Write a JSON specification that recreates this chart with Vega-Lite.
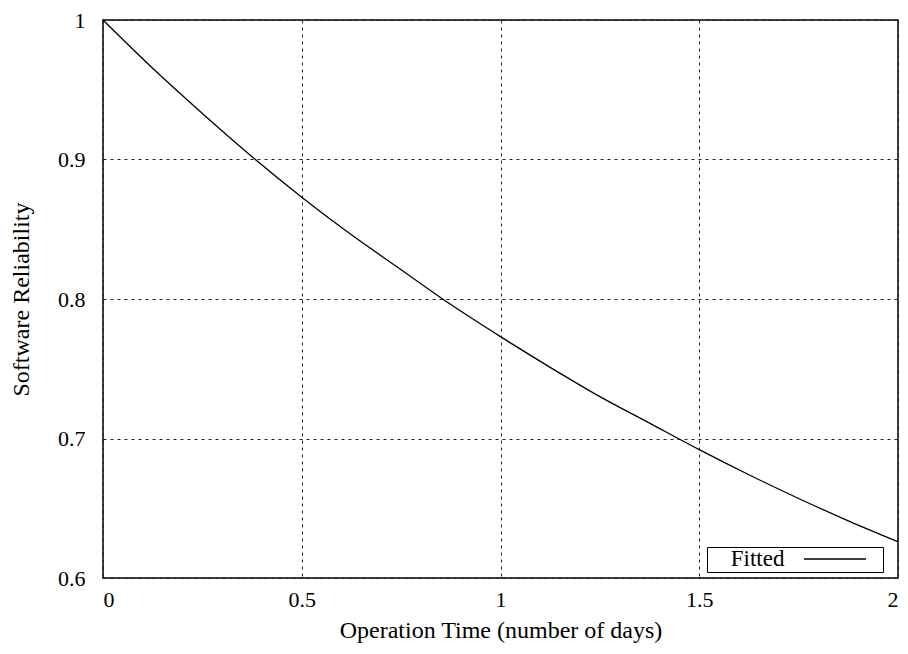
{
  "$schema": "https://vega.github.io/schema/vega-lite/v6.json",
  "width": 795,
  "height": 558,
  "autosize": {"type": "none"},
  "padding": {"left": 103, "top": 20, "right": 10, "bottom": 76},
  "background": "white",
  "config": {
    "font": "Liberation Serif",
    "view": {"stroke": "black", "strokeWidth": 1.5},
    "axis": {
      "grid": true,
      "gridColor": "#222222",
      "gridDash": [3, 4],
      "gridWidth": 1,
      "gridOpacity": 1,
      "domain": false,
      "ticks": false,
      "labelFont": "Liberation Serif",
      "labelFontSize": 22,
      "labelColor": "black",
      "titleFont": "Liberation Serif",
      "titleFontSize": 24,
      "titleFontWeight": "normal",
      "titleColor": "black"
    },
    "legend": {
      "orient": "none",
      "legendX": 604,
      "legendY": 527,
      "strokeColor": "black",
      "strokeWidth": 1,
      "fillColor": "white",
      "padding": 1,
      "titleOrient": "left",
      "titleFont": "Liberation Serif",
      "titleFontSize": 23,
      "titleFontWeight": "normal",
      "titleColor": "black",
      "titlePadding": 39,
      "symbolType": "M-3.1,0H3.1",
      "symbolSize": 400,
      "symbolStrokeWidth": 1.3,
      "labelOffset": 36,
      "labelFontSize": 20
    }
  },
  "data": {
    "values": [
      {"t": 0.0, "r": 1.0, "series": "Fitted"},
      {"t": 0.125, "r": 0.9654, "series": "Fitted"},
      {"t": 0.25, "r": 0.933, "series": "Fitted"},
      {"t": 0.375, "r": 0.902, "series": "Fitted"},
      {"t": 0.5, "r": 0.873, "series": "Fitted"},
      {"t": 0.625, "r": 0.846, "series": "Fitted"},
      {"t": 0.75, "r": 0.821, "series": "Fitted"},
      {"t": 0.875, "r": 0.796, "series": "Fitted"},
      {"t": 1.0, "r": 0.773, "series": "Fitted"},
      {"t": 1.125, "r": 0.751, "series": "Fitted"},
      {"t": 1.25, "r": 0.73, "series": "Fitted"},
      {"t": 1.375, "r": 0.711, "series": "Fitted"},
      {"t": 1.5, "r": 0.692, "series": "Fitted"},
      {"t": 1.625, "r": 0.674, "series": "Fitted"},
      {"t": 1.75, "r": 0.657, "series": "Fitted"},
      {"t": 1.875, "r": 0.641, "series": "Fitted"},
      {"t": 2.0, "r": 0.626, "series": "Fitted"}
    ]
  },
  "mark": {"type": "line", "strokeWidth": 1.3, "interpolate": "monotone"},
  "encoding": {
    "x": {
      "field": "t",
      "type": "quantitative",
      "scale": {"domain": [0, 2], "nice": false, "zero": false},
      "axis": {
        "title": "Operation Time (number of days)",
        "values": [0, 0.5, 1, 1.5, 2],
        "format": "~g",
        "labelPadding": 11,
        "titlePadding": 8
      }
    },
    "y": {
      "field": "r",
      "type": "quantitative",
      "scale": {"domain": [0.6, 1], "nice": false, "zero": false},
      "axis": {
        "title": "Software Reliability",
        "values": [0.6, 0.7, 0.8, 0.9, 1],
        "format": "~g",
        "labelPadding": 18,
        "titlePadding": 24
      }
    },
    "color": {
      "field": "series",
      "type": "nominal",
      "scale": {"range": ["black"]},
      "legend": {"title": "\u2800\u00a0Fitted", "labelExpr": "''"}
    }
  }
}
